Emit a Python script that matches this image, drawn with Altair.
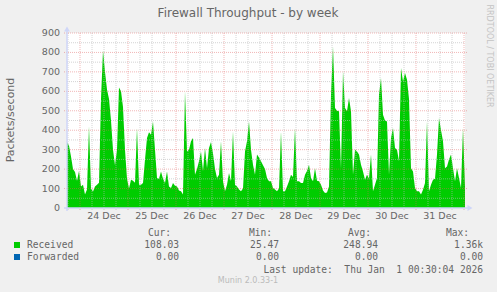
import altair as alt
import pandas as pd

# ---- data (hourly samples, Packets/second) ----
dec23 = [340, 320, 265, 200, 185, 140, 190]
dec24 = [110, 120, 70, 95, 420, 100, 85, 110, 120, 130, 560, 810,
         700, 610, 560, 450, 300, 220, 300, 620, 600, 520, 300, 150]
dec25 = [100, 145, 140, 130, 411, 120, 120, 128, 250, 360, 390, 377,
         445, 300, 154, 150, 188, 150, 128, 188, 110, 103, 128, 115]
dec26 = [111, 90, 86, 70, 600, 290, 300, 343, 360, 171, 200, 240,
         290, 190, 308, 205, 308, 340, 280, 200, 154, 171, 343, 137]
dec27 = [86, 120, 180, 137, 394, 120, 110, 95, 86, 100, 290, 343,
         445, 300, 222, 171, 275, 260, 240, 220, 200, 154, 137, 137]
dec28 = [103, 95, 86, 100, 394, 86, 86, 110, 137, 171, 160, 411,
         137, 137, 128, 128, 171, 190, 222, 154, 137, 205, 140, 137]
dec29 = [120, 90, 77, 80, 110, 583, 830, 514, 500, 497, 200, 703,
         514, 497, 566, 497, 171, 300, 290, 275, 222, 188, 145, 171]
dec30 = [150, 275, 86, 120, 154, 583, 668, 480, 450, 445, 171, 360,
         411, 308, 300, 240, 720, 651, 694, 660, 560, 205, 188, 103]
dec31 = [86, 86, 69, 94, 128, 445, 86, 120, 145, 150, 275, 463,
         400, 343, 205, 214, 250, 275, 205, 137, 205, 154, 103, 411]
jan01 = [108]

received = dec23 + dec24 + dec25 + dec26 + dec27 + dec28 + dec29 + dec30 + dec31 + jan01

x_labels = ["24 Dec", "25 Dec", "26 Dec", "27 Dec", "28 Dec", "29 Dec", "30 Dec", "31 Dec"]
y_ticks = [0, 100, 200, 300, 400, 500, 600, 700, 800, 900]
y_minor = [50, 150, 250, 350, 450, 550, 650, 750, 850]

series = ["Received", "Forwarded"]
series_colors = ["#00cc00", "#0066b3"]
cur_vals = ["108.03", "0.00"]
min_vals = ["25.47", "0.00"]
avg_vals = ["248.94", "0.00"]
max_vals = ["1.36k", "0.00\u00a0"]
headers = ["Cur:", "Min:", "Avg:", "Max:"]

title_text = "Firewall Throughput - by week"
y_title = "Packets/second"
last_update = "Last update:\u00a0 Thu Jan\u00a0 1 00:30:04 2026"
version_text = "Munin 2.0.33-1"
watermark = "RRDTOOL / TOBI OETIKER"

# ---- tables ----
start = pd.Timestamp("2025-12-23 17:30")
fmt = "%Y-%m-%dT%H:%M:%S"
df = pd.DataFrame({
    "time": [(start + pd.Timedelta(hours=i)).strftime(fmt) for i in range(len(received))],
    "value": received,
})
day_lines = pd.DataFrame({"t": [t.strftime(fmt) for t in pd.date_range("2025-12-24 00:00", "2026-01-01 00:00", freq="D")]})
six_h = [t for t in pd.date_range("2025-12-23 18:00", "2026-01-01 00:00", freq="6h") if t.hour != 0]
minor_lines = pd.DataFrame({"t": [t.strftime(fmt) for t in six_h]})
label_df = pd.DataFrame({
    "t": [t.strftime(fmt) for t in pd.date_range("2025-12-24 12:00", periods=len(x_labels), freq="D")],
    "label": x_labels,
})
ymaj = pd.DataFrame({"v": y_ticks[1:]})
ymin = pd.DataFrame({"v": y_minor})
ytick_df = pd.DataFrame({"v": y_ticks})
one = pd.DataFrame({"a": [0]})

x_scale = alt.Scale(domain=[alt.DateTime(year=2025, month=12, date=23, hours=17, minutes=30),
                            alt.DateTime(year=2026, month=1, date=1, hours=0, minutes=30)])
y_scale = alt.Scale(domain=[0, 900], nice=False)

def X(f):
    return alt.X(f, scale=x_scale, axis=None)

def Y(f):
    return alt.Y(f, scale=y_scale, axis=None)

FONT = "DejaVu Sans"
MONO = "DejaVu Sans Mono"
TXT = "#666666"
AXIS = "#CFD6F8"
MGRID = "#e06060"
GRID = "#b8b8b8"

layers = []

area = alt.Chart(df).mark_area(color="#00cc00", interpolate="linear").encode(
    x=X("time:T"), y=Y("value:Q"))
layers.append(area)

# grid on top of data
layers.append(alt.Chart(ymin).mark_rule(color=GRID, opacity=0.6, strokeDash=[1, 1]).encode(
    y=Y("v:Q"), x=alt.value(0), x2=alt.value(398)))
layers.append(alt.Chart(minor_lines).mark_rule(color=GRID, opacity=0.6, strokeDash=[1, 1]).encode(
    x=X("t:T"), y=alt.value(0), y2=alt.value(177)))
layers.append(alt.Chart(ymaj).mark_rule(color=MGRID, opacity=0.45, strokeDash=[1, 1]).encode(
    y=Y("v:Q"), x=alt.value(-3), x2=alt.value(400)))
layers.append(alt.Chart(day_lines).mark_rule(color=MGRID, opacity=0.45, strokeDash=[1, 1]).encode(
    x=X("t:T"), y=alt.value(0), y2=alt.value(178)))

# axes
layers.append(alt.Chart(one).mark_rule(color=AXIS, strokeWidth=1.5).encode(
    x=alt.value(0), y=alt.value(-3), y2=alt.value(178)))
layers.append(alt.Chart(one).mark_rule(color=AXIS, strokeWidth=1.5).encode(
    x=alt.value(-3), x2=alt.value(401), y=alt.value(175)))
layers.append(alt.Chart(one).mark_point(shape="triangle-up", filled=True, size=34, color=AXIS, opacity=1).encode(
    x=alt.value(0), y=alt.value(-4)))
layers.append(alt.Chart(one).mark_point(shape="triangle-right", filled=True, size=34, color=AXIS, opacity=1).encode(
    x=alt.value(403), y=alt.value(175)))

# tick labels
layers.append(alt.Chart(ytick_df).mark_text(font=FONT, fontSize=9.5, color=TXT, align="right", baseline="middle").encode(
    y=Y("v:Q"), x=alt.value(-7), text=alt.Text("v:Q")))
layers.append(alt.Chart(label_df).mark_text(font=FONT, fontSize=9.5, color=TXT, align="center", baseline="middle").encode(
    x=X("t:T"), y=alt.value(183), text=alt.Text("label:N")))

def txt(s, x, y, align="left", size=9.6, color=TXT, font=MONO, angle=0):
    kw = dict(font=font, fontSize=size, color=color, align=align, baseline="middle")
    if angle:
        kw["angle"] = angle
    return alt.Chart(one).mark_text(**kw).encode(x=alt.value(x), y=alt.value(y), text=alt.value(s))

layers.append(txt(title_text, 181, -20, align="center", size=12, font=FONT))
layers.append(txt(y_title, -56.5, 87, align="center", size=11, font=FONT, angle=270))
layers.append(txt(watermark, 421.5, 23, align="center", size=8, font=FONT, color="#c4c4c4", angle=90))

hx = [104, 205, 304, 402]
for h, x in zip(headers, hx):
    layers.append(txt(h, x, 200, align="right"))

vx = [112, 212, 311, 416]
rows_y = [212, 224]
for i, name in enumerate(series):
    y = rows_y[i]
    layers.append(alt.Chart(one).mark_square(size=36, color=series_colors[i], opacity=1).encode(
        x=alt.value(-50), y=alt.value(y)))
    layers.append(txt(name, -40, y))
    for col, x in zip([cur_vals, min_vals, avg_vals, max_vals], vx):
        layers.append(txt(col[i], x, y, align="right"))

layers.append(txt(last_update, 416, 237, align="right"))
layers.append(txt(version_text, 181, 248, align="center", size=8, font=FONT, color="#bbbbbb"))

chart = alt.layer(*layers).properties(
    width=398, height=175,
    autosize=alt.AutoSizeParams(type="none"),
    padding={"left": 67, "top": 33, "right": 32, "bottom": 84},
    background="#f0f0f0",
).configure_view(fill="white", strokeWidth=0)

chart.save("out.html", embed_options={"renderer": "svg", "actions": False})
